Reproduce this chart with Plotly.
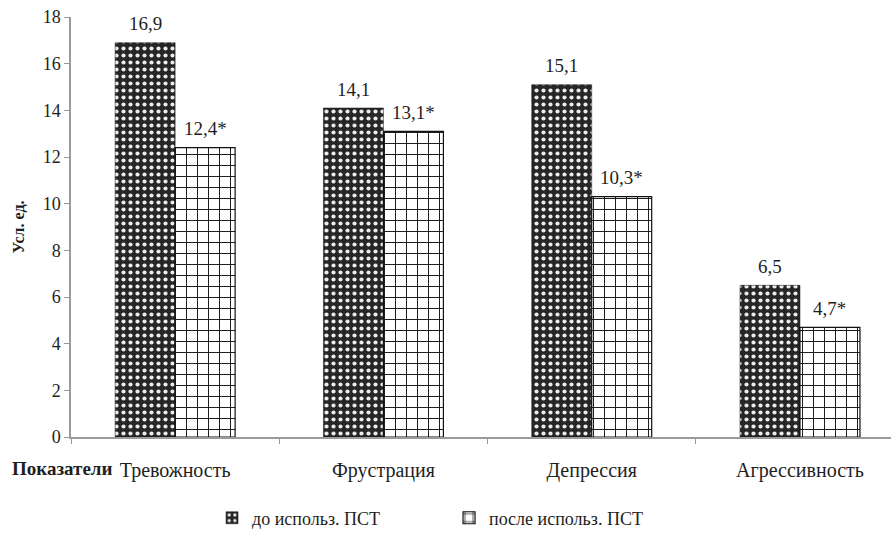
import plotly.graph_objects as go

categories = ["Тревожность", "Фрустрация", "Депрессия", "Агрессивность"]
before_vals = [16.9, 14.1, 15.1, 6.5]
after_vals = [12.4, 13.1, 10.3, 4.7]
before_marks = ["", "", "", ""]
after_marks = ["*", "*", "*", "*"]
series_names = ["до использ. ПСТ", "после использ. ПСТ"]
y_ticks = [0, 2, 4, 6, 8, 10, 12, 14, 16, 18]

SERIF = "Liberation Serif"
INK = "#1e1e1e"


def fmt(v, mark):
    return f"{v:.1f}".replace(".", ",") + mark


fig = go.Figure()
fig.add_trace(go.Bar(
    x=categories, y=before_vals, name=series_names[0],
    marker=dict(color="#2a2a2a",
                line=dict(color="#111", width=0.5),
                pattern=dict(shape=".", fgcolor="#ececec", bgcolor="#262626",
                             size=7, solidity=0.28, fillmode="replace")),
))
fig.add_trace(go.Bar(
    x=categories, y=after_vals, name=series_names[1],
    marker=dict(color="white",
                line=dict(color="#111", width=1.2),
                pattern=dict(shape="+", fgcolor="#1a1a1a", bgcolor="white",
                             size=11, solidity=0.17, fillmode="replace")),
))

# value labels above each bar, offset to the centre of its bar in the group
value_labels = []
for vals, marks, shift in ((before_vals, before_marks, -30), (after_vals, after_marks, 30)):
    for cat, v, m in zip(categories, vals, marks):
        value_labels.append(dict(
            x=cat, y=v, xref="x", yref="y", text=fmt(v, m), showarrow=False,
            xshift=shift, yshift=19, yanchor="middle", xanchor="center",
            font=dict(family=SERIF, size=19, color=INK)))

fig.update_layout(
    width=891, height=539,
    margin=dict(l=71, r=0, t=17, b=102),
    paper_bgcolor="white", plot_bgcolor="white",
    barmode="group", bargap=0.424, bargroupgap=0,
    font=dict(family=SERIF, color=INK),
    showlegend=True,
    legend=dict(orientation="h", x=0.172, xanchor="left", y=-0.193, yanchor="middle",
                font=dict(family=SERIF, size=18, color=INK), itemwidth=30,
                traceorder="normal", entrywidth=192),
    xaxis=dict(type="category", range=[-0.5, 3.437],
               showline=True, linecolor="#9a9a9a", linewidth=1.5,
               ticks="outside", tickson="boundaries", ticklen=5, tickcolor="#9a9a9a",
               tickfont=dict(family=SERIF, size=20, color=INK), ticklabelstandoff=14,
               showgrid=False, zeroline=False),
    yaxis=dict(range=[0, 18], tickvals=y_ticks,
               showline=True, linecolor="#9a9a9a", linewidth=1.5,
               ticks="outside", ticklen=5, tickcolor="#9a9a9a",
               tickfont=dict(family=SERIF, size=18, color=INK),
               showgrid=False, zeroline=False,
               title=dict(text="<b>Усл. ед.</b>", font=dict(family=SERIF, size=16, color=INK),
                          standoff=14)),
    annotations=value_labels + [
        dict(text="<b>Показатели</b>", xref="paper", yref="paper",
             x=-0.074, y=-0.076, xanchor="left", yanchor="middle",
             showarrow=False, font=dict(family=SERIF, size=19, color=INK))],
)

fig.write_html("out.html")
